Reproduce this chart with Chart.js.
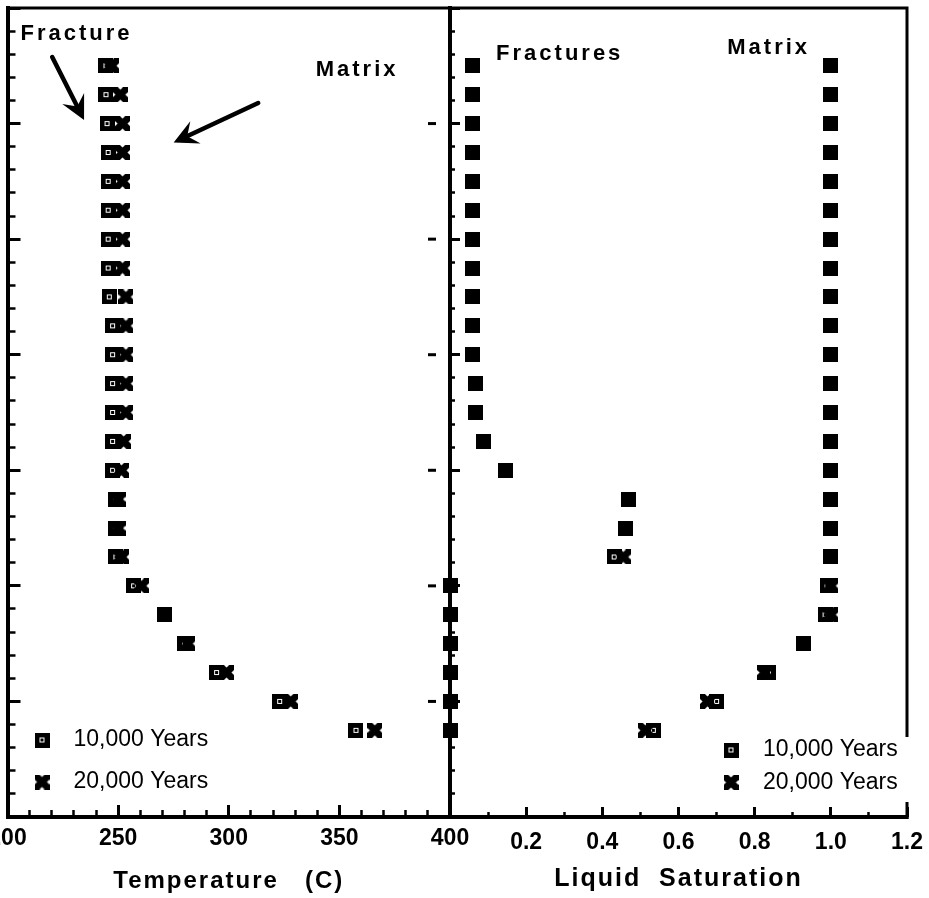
<!DOCTYPE html>
<html>
<head>
<meta charset="utf-8">
<title>Temperature and liquid saturation profiles</title>
<script src="https://cdn.jsdelivr.net/npm/chart.js@4.4.0/dist/chart.umd.min.js"></script>
<style>
  html, body { margin: 0; padding: 0; background: #fff; }
  #wrap { position: relative; width: 929px; height: 898px; }
  #wrap canvas { position: absolute; left: 0; top: 0; }
</style>
</head>
<body>
<div id="wrap">
  <canvas id="satChart" width="929" height="898"></canvas>
  <canvas id="tempChart" width="929" height="898"></canvas>
</div>
<script>
// vertical position of each node (axis has no labels), top to bottom
var depths = [650, 625, 600, 575, 550, 525, 500, 475, 450, 425, 400, 375,
              350, 325, 300, 275, 250, 225, 200, 175, 150, 125, 100, 75];

// temperature (C)
var temp10k = [244.5, 244.5, 245, 245.5, 245.5, 245.5, 245.5, 245.5, 246, 247.5, 247.5, 247.5,
               247.5, 247.5, 247.5, 249, 249, 249, 257, 271, 280, 294.5, 323, 357.5];
var temp20k = [247, 251, 252, 252, 252, 252, 252, 252, 253.5, 253.5, 253.5, 253.5,
               253.5, 252.5, 251.5, 250, 250, 251.5, 260.5, 271, 281.5, 299, 328, 366];

// liquid saturation
var fracSat10k = [0.06, 0.06, 0.06, 0.06, 0.06, 0.06, 0.06, 0.06, 0.06, 0.06, 0.06, 0.068,
                  0.068, 0.089, 0.145, 0.47, 0.462, 0.431, 0, 0, 0, 0, 0, 0];
var fracSat20k = [0.06, 0.06, 0.06, 0.06, 0.06, 0.06, 0.06, 0.06, 0.06, 0.06, 0.06, 0.068,
                  0.068, 0.089, 0.145, 0.47, 0.462, 0.455, 0, 0, 0, 0, 0, 0];
var matSat10k = [1, 1, 1, 1, 1, 1, 1, 1, 1, 1, 1, 1,
                 1, 1, 1, 1, 1, 1, 0.99, 0.985, 0.927, 0.836, 0.70, 0.534];
var matSat20k = [1, 1, 1, 1, 1, 1, 1, 1, 1, 1, 1, 1,
                 1, 1, 1, 1, 1, 1, 1, 1, 0.927, 0.826, 0.676, 0.513];

var seriesNames = ['10,000 Years', '20,000 Years'];
var depthRange = [0, 700];
var tempRange = [200, 400];
var satRange = [0, 1.2];

// labels and arrows, in data units of each panel
var tempNotes = [
  { text: 'Fracture', x: 205.9, y: 672 },
  { text: 'Matrix', x: 339.3, y: 641 }
];
var tempArrows = [
  { from: [220.2, 657.6], to: [234.6, 603.1] },
  { from: [313.3, 617.8], to: [275.1, 583.6] }
];
var satNotes = [
  { text: 'Fractures', x: 0.121, y: 655 },
  { text: 'Matrix', x: 0.728, y: 660 }
];

var FONT = '"Liberation Sans", Arial, Helvetica, sans-serif';
Chart.defaults.font.family = FONT;
Chart.defaults.color = '#000';

function pairs(xs, ys) {
  var out = [];
  for (var i = 0; i < xs.length; i++) {
    out.push({ x: xs[i], y: ys[i] });
  }
  return out;
}

// point symbols: heavy square with a dot, and a heavy x
function makeMarker(kind) {
  var c = document.createElement('canvas');
  c.width = 15;
  c.height = 15;
  var g = c.getContext('2d');
  if (kind === 'box') {
    g.fillStyle = '#000';
    g.fillRect(0, 0, 15, 15);
    g.fillStyle = '#fff';
    g.fillRect(5, 5, 5, 5);
    g.fillStyle = '#000';
    g.fillRect(6, 6, 3, 3);
  } else {
    g.beginPath();
    g.rect(0, 0, 15, 15);
    g.clip();
    g.strokeStyle = '#000';
    g.lineWidth = 7;
    g.beginPath();
    g.moveTo(0, 0); g.lineTo(15, 15);
    g.moveTo(15, 0); g.lineTo(0, 15);
    g.stroke();
  }
  return c;
}
var boxMark = makeMarker('box');
var xMark = makeMarker('x');

function fixBox(w, h) {
  return function (scale) {
    if (w !== null) scale.width = w;
    if (h !== null) scale.height = h;
    scale.paddingLeft = 0;
    scale.paddingRight = 0;
    scale.paddingTop = 0;
    scale.paddingBottom = 0;
  };
}

function drawArrow(ctx, x1, y1, x2, y2) {
  var ang = Math.atan2(y2 - y1, x2 - x1);
  var len = 27, spread = 0.47;
  ctx.beginPath();
  ctx.moveTo(x1, y1);
  ctx.lineTo(x2 - Math.cos(ang) * 10, y2 - Math.sin(ang) * 10);
  ctx.stroke();
  ctx.beginPath();
  ctx.moveTo(x2, y2);
  ctx.lineTo(x2 - len * Math.cos(ang - spread), y2 - len * Math.sin(ang - spread));
  ctx.lineTo(x2 - 15 * Math.cos(ang), y2 - 15 * Math.sin(ang));
  ctx.lineTo(x2 - len * Math.cos(ang + spread), y2 - len * Math.sin(ang + spread));
  ctx.closePath();
  ctx.fill();
}

var panelDecor = {
  id: 'panelDecor',
  beforeDraw: function (chart) {
    // axis titles are drawn in this pass; the original lettering is spaced out
    chart.ctx.letterSpacing = '2px';
  },
  beforeDatasetsDraw: function (chart, args, opts) {
    var ctx = chart.ctx, a = chart.chartArea;
    ctx.letterSpacing = '0px';
    ctx.save();
    ctx.strokeStyle = '#000';
    ctx.lineWidth = 3;
    ctx.beginPath();
    ctx.moveTo(a.left - 1, a.top);
    ctx.lineTo(a.right, a.top);
    ctx.lineTo(a.right, a.bottom);
    ctx.stroke();
    if (opts.dashes) {
      var ys = chart.scales.yMajor;
      ys.ticks.forEach(function (t) {
        if (t.value <= ys.min || t.value >= ys.max) return;
        var py = ys.getPixelForValue(t.value);
        ctx.beginPath();
        ctx.moveTo(a.right - 22, py);
        ctx.lineTo(a.right - 14, py);
        ctx.stroke();
      });
    }
    ctx.restore();
  },
  afterDatasetsDraw: function (chart, args, opts) {
    var ctx = chart.ctx, a = chart.chartArea;
    var xs = chart.scales.x, ys = chart.scales.y;
    ctx.save();
    ctx.fillStyle = '#000';
    ctx.strokeStyle = '#000';

    (opts.arrows || []).forEach(function (ar) {
      ctx.lineWidth = 4.5;
      ctx.lineCap = 'round';
      drawArrow(ctx,
        xs.getPixelForValue(ar.from[0]), ys.getPixelForValue(ar.from[1]),
        xs.getPixelForValue(ar.to[0]), ys.getPixelForValue(ar.to[1]));
    });

    ctx.font = 'bold 22px ' + FONT;
    ctx.letterSpacing = '3px';
    ctx.textAlign = 'left';
    ctx.textBaseline = 'alphabetic';
    (opts.notes || []).forEach(function (n) {
      ctx.fillText(n.text, xs.getPixelForValue(n.x), ys.getPixelForValue(n.y));
    });
    ctx.letterSpacing = '0px';

    var lg = opts.legend;
    if (lg) {
      if (lg.whiteBox) {
        ctx.fillStyle = '#fff';
        ctx.fillRect(a.left + lg.dx - 16, a.bottom - 80, a.right - a.left - lg.dx + 20, 65);
        ctx.fillStyle = '#000';
      }
      ctx.font = '23px ' + FONT;
      ctx.textBaseline = 'middle';
      seriesNames.forEach(function (name, i) {
        var ds = chart.data.datasets.filter(function (d) { return d.label === name; })[0];
        var cy = a.bottom + lg.rows[i];
        var img = ds.pointStyle;
        ctx.drawImage(img, a.left + lg.dx - img.width / 2, cy - img.height / 2);
        ctx.fillText(name, a.left + lg.textDx, cy);
      });
    }
    ctx.restore();
  }
};

function yAxes(minorLen, majorLen) {
  return {
    y: {
      type: 'linear', position: 'left', min: depthRange[0], max: depthRange[1],
      ticks: { display: false, stepSize: 20 },
      grid: { drawOnChartArea: false, tickLength: -minorLen, tickWidth: 2.5, tickColor: '#000' },
      border: { color: '#000', width: 4 },
      afterFit: fixBox(0, null)
    },
    yMajor: {
      type: 'linear', position: 'left', min: depthRange[0], max: depthRange[1],
      ticks: { display: false, stepSize: 100 },
      grid: { drawOnChartArea: false, tickLength: -majorLen, tickWidth: 3, tickColor: '#000' },
      border: { display: false },
      afterFit: fixBox(0, null)
    }
  };
}

function point(label, data, mark) {
  return {
    label: label, data: data, pointStyle: mark,
    pointRadius: 7.5, pointHoverRadius: 7.5, pointBorderWidth: 0,
    clip: false
  };
}

// ----- left panel: temperature -----
var tempScales = yAxes(8, 13);
tempScales.x = {
  type: 'linear', position: 'bottom', weight: 0, min: tempRange[0], max: tempRange[1],
  ticks: { display: false, stepSize: 10 },
  grid: { drawOnChartArea: false, tickLength: -7, tickWidth: 2.5, tickColor: '#000' },
  border: { color: '#000', width: 4 },
  afterFit: fixBox(null, 0)
};
tempScales.xMajor = {
  type: 'linear', position: 'bottom', weight: 1, min: tempRange[0], max: tempRange[1],
  ticks: { stepSize: 50, autoSkip: false, maxRotation: 0, padding: 20, z: 1,
           color: '#000', font: { size: 23, weight: 'bold' } },
  grid: { drawOnChartArea: false, tickLength: -12, tickWidth: 3, tickColor: '#000' },
  border: { display: false },
  title: { display: true, text: 'Temperature   (C)', color: '#000',
           font: { size: 24, weight: 'bold' }, padding: { top: 0, bottom: 2 } },
  afterFit: fixBox(null, 81)
};

new Chart(document.getElementById('tempChart'), {
  type: 'scatter',
  data: {
    datasets: [
      point(seriesNames[1], pairs(temp20k, depths), xMark),
      point(seriesNames[0], pairs(temp10k, depths), boxMark)
    ]
  },
  options: {
    responsive: false,
    animation: false,
    events: [],
    layout: { padding: { left: 5, top: 8, right: 479, bottom: 0 } },
    scales: tempScales,
    plugins: {
      legend: { display: false },
      tooltip: { enabled: false },
      panelDecor: {
        notes: tempNotes, arrows: tempArrows, dashes: true,
        legend: { dx: 34.5, textDx: 66, rows: [-77, -35], whiteBox: false }
      }
    }
  },
  plugins: [panelDecor]
});

// ----- right panel: liquid saturation -----
var satScales = yAxes(5, 10);
satScales.x = {
  type: 'linear', position: 'bottom', weight: 0, min: satRange[0], max: satRange[1],
  ticks: { display: false, stepSize: 0.1 },
  grid: { drawOnChartArea: false, tickLength: -5, tickWidth: 2.5, tickColor: '#000' },
  border: { color: '#000', width: 4 },
  afterFit: fixBox(null, 0)
};
satScales.xMajor = {
  type: 'linear', position: 'bottom', weight: 1, min: satRange[0], max: satRange[1],
  ticks: { stepSize: 0.2, autoSkip: false, maxRotation: 0, padding: 22, z: 1,
           color: '#000', font: { size: 23, weight: 'bold' },
           callback: function (v) { return v === 0 ? '' : Number(v).toFixed(1); } },
  grid: { drawOnChartArea: false, tickLength: -10, tickWidth: 3, tickColor: '#000' },
  border: { display: false },
  title: { display: true, text: 'Liquid  Saturation', color: '#000',
           font: { size: 25, weight: 'bold' }, padding: { top: 0, bottom: 4 } },
  afterFit: fixBox(null, 81)
};

new Chart(document.getElementById('satChart'), {
  type: 'scatter',
  data: {
    datasets: [
      point(seriesNames[1], pairs(fracSat20k, depths).concat(pairs(matSat20k, depths)), xMark),
      point(seriesNames[0], pairs(fracSat10k, depths).concat(pairs(matSat10k, depths)), boxMark)
    ]
  },
  options: {
    responsive: false,
    animation: false,
    events: [],
    layout: { padding: { left: 450, top: 8, right: 22, bottom: 0 } },
    scales: satScales,
    plugins: {
      legend: { display: false },
      tooltip: { enabled: false },
      panelDecor: {
        notes: satNotes, arrows: [], dashes: false,
        legend: { dx: 281, textDx: 313, rows: [-67, -34.5], whiteBox: true }
      }
    }
  },
  plugins: [panelDecor]
});
</script>
</body>
</html>
